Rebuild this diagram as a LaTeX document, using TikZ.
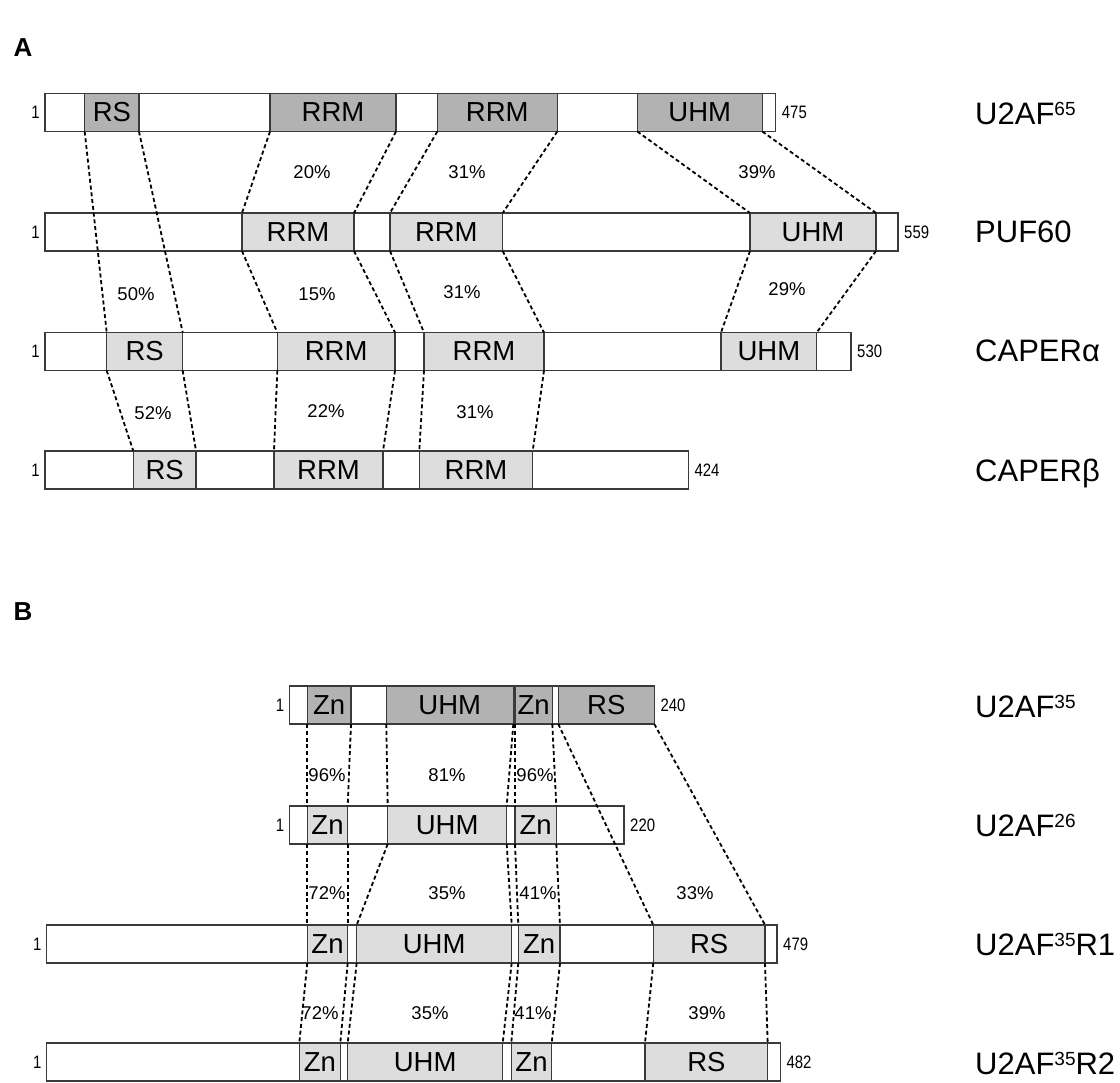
\documentclass[tikz,border=0pt]{standalone}
\usepackage{fontspec}
\setmainfont{Liberation Sans}
\usetikzlibrary{backgrounds}
\pgfdeclarelayer{bg}
\pgfsetlayers{bg,main}
\definecolor{dkg}{HTML}{B2B2B2}
\definecolor{ltg}{HTML}{DDDDDD}
\definecolor{edgec}{HTML}{3A3A3A}
\newcommand\fsz[1]{\fontsize{#1}{#1}\selectfont}
% name, x1, x2, ytop, style, text
\newcommand\dm[6]{\node[#5, minimum width={#3pt-#2pt}] (#1) at (#2,#4) {#6};}
\newcommand\lnk[2]{\draw[conn] (#1.south west) -- (#2.north west);\draw[conn] (#1.south east) -- (#2.north east);}
\newcommand\barends[2]{%
  \node[num, anchor=east, xshift=-5pt] (#1s) at (#1.west) {\scalebox{0.83}[1]{1}};
  \node[num, anchor=west, xshift=6pt] (#1e) at (#1.east) {\scalebox{0.83}[1]{#2}};}
\newcommand\supx[1]{\raisebox{8.8pt}{\fsz{19}#1}}
\tikzset{
  bar/.style={draw=edgec, fill=white, line width=1.1pt, anchor=north west,
    minimum height=38pt, inner sep=0pt, outer sep=0pt, font=\fsz{27.5}},
  dk/.style={bar, fill=dkg},
  lt/.style={bar, fill=ltg},
  conn/.style={line width=1.8pt, dash pattern=on 4pt off 2.8pt, black},
  num/.style={font=\fsz{18}, inner sep=0pt},
  pct/.style={font=\fsz{18.5}, inner sep=0pt},
  lab/.style={font=\fsz{31}, anchor=base west, inner sep=0pt},
  panel/.style={font=\fsz{26}\bfseries, inner sep=0pt}
}
\begin{document}
\begin{tikzpicture}[x=1pt,y=-1pt]
\begin{pgfonlayer}{bg}
\fill[white] (0,0) rectangle (1120,1083);
\end{pgfonlayer}
\useasboundingbox (0,0) rectangle (1120,1083);

\node[panel] (pA) at (23,48) {A};
\node[panel] (pB) at (23,612) {B};

% ---------- Panel A ----------
\dm{a1}{45}{775.7}{93.5}{bar}{}
\dm{a1rs}{84.7}{139}{93.5}{dk}{RS}
\dm{a1r1}{270}{396}{93.5}{dk}{RRM}
\dm{a1r2}{437.3}{557.3}{93.5}{dk}{RRM}
\dm{a1u}{637.3}{762.3}{93.5}{dk}{UHM}
\barends{a1}{475}

\dm{a2}{45}{898}{213}{bar}{}
\dm{a2r1}{242}{354}{213}{lt}{RRM}
\dm{a2r2}{390}{502.7}{213}{lt}{RRM}
\dm{a2u}{750}{876}{213}{lt}{UHM}
\barends{a2}{559}

\dm{a3}{45}{851}{332.5}{bar}{}
\dm{a3rs}{106.7}{182.7}{332.5}{lt}{RS}
\dm{a3r1}{277.3}{395}{332.5}{lt}{RRM}
\dm{a3r2}{424}{544}{332.5}{lt}{RRM}
\dm{a3u}{721}{816.7}{332.5}{lt}{UHM}
\barends{a3}{530}

\dm{a4}{45}{688.3}{451}{bar}{}
\dm{a4rs}{133.3}{196}{451}{lt}{RS}
\dm{a4r1}{274}{383}{451}{lt}{RRM}
\dm{a4r2}{419.3}{532.7}{451}{lt}{RRM}
\barends{a4}{424}

\node[lab] (la1) at (975,124.5) {U2AF\supx{65}};
\node[lab] (la2) at (975,243) {PUF60};
\node[lab] (la3) at (975,362) {CAPERα};
\node[lab] (la4) at (975,481) {CAPERβ};

\node[pct] (pa1) at (312,172) {20\%};
\node[pct] (pa2) at (467,172) {31\%};
\node[pct] (pa3) at (757,172) {39\%};
\node[pct] (pa4) at (136,294) {50\%};
\node[pct] (pa5) at (317,294) {15\%};
\node[pct] (pa6) at (462,292) {31\%};
\node[pct] (pa7) at (787,289) {29\%};
\node[pct] (pa8) at (153,413) {52\%};
\node[pct] (pa9) at (326,411) {22\%};
\node[pct] (pa10) at (475,412) {31\%};

% ---------- Panel B ----------
\dm{b1}{289.3}{654.3}{686}{bar}{}
\dm{b1z1}{307.3}{351}{686}{dk}{Zn}
\dm{b1u}{386.3}{513.3}{686}{dk}{UHM}
\dm{b1z2}{515}{552.3}{686}{dk}{Zn}
\dm{b1rs}{558.3}{654.3}{686}{dk}{RS}
\barends{b1}{240}

\dm{b2}{289.3}{624}{806}{bar}{}
\dm{b2z1}{307.3}{347.7}{806}{lt}{Zn}
\dm{b2u}{387.7}{506.7}{806}{lt}{UHM}
\dm{b2z2}{515}{556.3}{806}{lt}{Zn}
\barends{b2}{220}

\dm{b3}{46.7}{777}{925}{bar}{}
\dm{b3z1}{307.3}{347.7}{925}{lt}{Zn}
\dm{b3u}{356.7}{511.7}{925}{lt}{UHM}
\dm{b3z2}{518.3}{560}{925}{lt}{Zn}
\dm{b3rs}{653.3}{765}{925}{lt}{RS}
\barends{b3}{479}

\dm{b4}{46.7}{780.3}{1043}{bar}{}
\dm{b4z1}{299.3}{340.3}{1043}{lt}{Zn}
\dm{b4u}{347.7}{502.7}{1043}{lt}{UHM}
\dm{b4z2}{511.3}{551.7}{1043}{lt}{Zn}
\dm{b4rs}{645}{767.7}{1043}{lt}{RS}
\barends{b4}{482}

\node[lab] (lb1) at (975,717) {U2AF\supx{35}};
\node[lab] (lb2) at (975,836) {U2AF\supx{26}};
\node[lab] (lb3) at (975,955.5) {U2AF\supx{35}R1};
\node[lab] (lb4) at (975,1074.5) {U2AF\supx{35}R2};

\node[pct] (pb1) at (327,775) {96\%};
\node[pct] (pb2) at (447,775) {81\%};
\node[pct] (pb3) at (535,775) {96\%};
\node[pct] (pb4) at (327,893) {72\%};
\node[pct] (pb5) at (447,893) {35\%};
\node[pct] (pb6) at (538,893) {41\%};
\node[pct] (pb7) at (695,893) {33\%};
\node[pct] (pb8) at (320,1013) {72\%};
\node[pct] (pb9) at (430,1013) {35\%};
\node[pct] (pb10) at (533,1013) {41\%};
\node[pct] (pb11) at (707,1013) {39\%};

% ---------- connectors (drawn over the bars) ----------
\lnk{a1rs}{a3rs}
\lnk{a1r1}{a2r1}
\lnk{a1r2}{a2r2}
\lnk{a1u}{a2u}
\lnk{a2r1}{a3r1}
\lnk{a2r2}{a3r2}
\lnk{a2u}{a3u}
\lnk{a3rs}{a4rs}
\lnk{a3r1}{a4r1}
\lnk{a3r2}{a4r2}
\lnk{b1z1}{b2z1}
\lnk{b1u}{b2u}
\lnk{b1z2}{b2z2}
\lnk{b1rs}{b3rs}
\lnk{b2z1}{b3z1}
\lnk{b2u}{b3u}
\lnk{b2z2}{b3z2}
\lnk{b3z1}{b4z1}
\lnk{b3u}{b4u}
\lnk{b3z2}{b4z2}
\lnk{b3rs}{b4rs}
\end{tikzpicture}
\end{document}
